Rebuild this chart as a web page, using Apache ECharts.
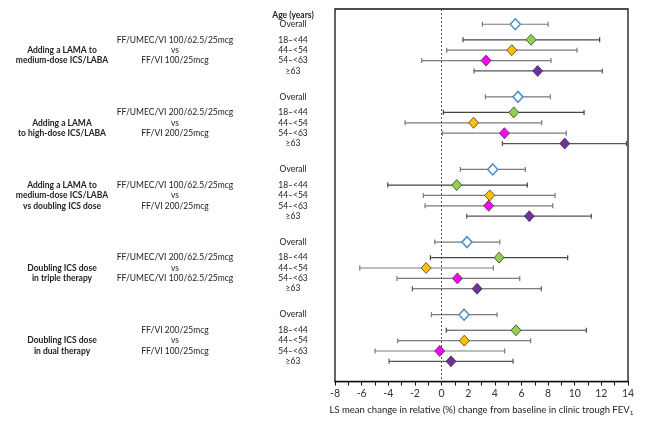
<!DOCTYPE html>
<html>
<head>
<meta charset="utf-8">
<script src="https://cdn.jsdelivr.net/npm/echarts@6/dist/echarts.min.js"></script>
<style>
html,body{margin:0;padding:0;background:#fff;}
#c{width:661px;height:421px;}
</style>
</head>
<body>
<div id="c"></div>
<script>
// ---- data ----
const groupLabels = [
  ['Adding a LAMA to', 'medium-dose ICS/LABA'],
  ['Adding a LAMA', 'to high-dose ICS/LABA'],
  ['Adding a LAMA to', 'medium-dose ICS/LABA', 'vs doubling ICS dose'],
  ['Doubling ICS dose', 'in triple therapy'],
  ['Doubling ICS dose', 'in dual therapy']
];
const comparisons = [
  ['FF/UMEC/VI 100/62.5/25mcg', 'vs', 'FF/VI 100/25mcg'],
  ['FF/UMEC/VI 200/62.5/25mcg', 'vs', 'FF/VI 200/25mcg'],
  ['FF/UMEC/VI 100/62.5/25mcg', 'vs', 'FF/VI 200/25mcg'],
  ['FF/UMEC/VI 200/62.5/25mcg', 'vs', 'FF/UMEC/VI 100/62.5/25mcg'],
  ['FF/VI 200/25mcg', 'vs', 'FF/VI 100/25mcg']
];
const ageGroups = ['Overall', '18\u2013<44', '44\u2013<54', '54\u2013<63', '\u226563'];
const xTicks = [-8, -6, -4, -2, 0, 2, 4, 6, 8, 10, 12, 14];

// LS mean and 95% CI, per comparison, per age group (Overall, 18-<44, 44-<54, 54-<63, >=63)
const lsMean = [
  [5.54, 6.72, 5.27, 3.34, 7.22],
  [5.74, 5.42, 2.41, 4.72, 9.25],
  [3.84, 1.14, 3.62, 3.54, 6.59],
  [1.91, 4.32, -1.16, 1.19, 2.67],
  [1.69, 5.59, 1.71, -0.14, 0.71]
];
const ciLower = [
  [3.07, 1.61, 0.39, -1.49, 2.44],
  [3.29, 0.14, -2.74, 0.06, 4.57],
  [1.41, -4.04, -1.37, -1.24, 1.89],
  [-0.51, -0.84, -6.14, -3.34, -2.19],
  [-0.76, 0.36, -3.29, -4.99, -3.94]
];
const ciUpper = [
  [8.00, 11.87, 10.17, 8.22, 12.07],
  [8.17, 10.70, 7.52, 9.37, 13.88],
  [6.29, 6.44, 8.52, 8.35, 11.25],
  [4.37, 9.47, 3.89, 5.87, 7.49],
  [4.17, 10.87, 6.69, 4.74, 5.37]
];

// ---- layout (row slots) ----
const rowOffsets = [0, 1.5, 2.5, 3.5, 4.5];
const groupStep = 7;
const rowPos = (g, i) => g * groupStep + rowOffsets[i];

const markerFill = ['#ffffff', '#92d050', '#ffc000', '#ff00ff', '#7030a0'];
const markerBorder = ['#4a8cc8', '#3a3a3a', '#3a3a3a', '#3a3a3a', '#3a3a3a'];
const barColor = ['#7a7a7a', '#444444', '#7a7a7a', '#7a7a7a', '#555555'];

const FONT = 'Lato, "Open Sans", sans-serif';

const chart = echarts.init(document.getElementById('c'), null, {renderer: 'canvas'});

const errData = [];
for (let g = 0; g < lsMean.length; g++) {
  for (let i = 0; i < ageGroups.length; i++) {
    errData.push([ciLower[g][i], ciUpper[g][i], rowPos(g, i), i]);
  }
}

const series = [];
series.push({
  type: 'custom',
  name: 'ci',
  data: errData,
  encode: {x: [0, 1], y: 2},
  renderItem: function (params, api) {
    const y = api.value(2);
    const p1 = api.coord([api.value(0), y]);
    const p2 = api.coord([api.value(1), y]);
    const h = 2.5;
    const st = {stroke: barColor[api.value(3)], lineWidth: 1.2};
    return {
      type: 'group',
      children: [
        {type: 'line', shape: {x1: p1[0], y1: p1[1], x2: p2[0], y2: p2[1]}, style: st},
        {type: 'line', shape: {x1: p1[0], y1: p1[1] - h, x2: p1[0], y2: p1[1] + h}, style: st},
        {type: 'line', shape: {x1: p2[0], y1: p2[1] - h, x2: p2[0], y2: p2[1] + h}, style: st}
      ]
    };
  },
  markLine: {
    silent: true,
    symbol: ['none', 'none'],
    label: {show: false},
    lineStyle: {color: '#555', type: [2, 2], width: 1},
    data: [{xAxis: 0}]
  },
  z: 2
});

for (let i = 0; i < ageGroups.length; i++) {
  const d = [];
  for (let g = 0; g < lsMean.length; g++) d.push([lsMean[g][i], rowPos(g, i)]);
  series.push({
    type: 'scatter',
    name: ageGroups[i],
    data: d,
    symbol: 'diamond',
    symbolSize: [10, 11],
    itemStyle: {
      color: markerFill[i],
      borderColor: markerBorder[i],
      borderWidth: i === 0 ? 1.5 : 0.8,
      opacity: 1
    },
    z: 5
  });
}

chart.setOption({
  animation: false,
  backgroundColor: '#fff',
  grid: {
    left: 335, top: 9, width: 293, height: 374,
    show: true, borderColor: '#111', borderWidth: 1.3, backgroundColor: 'transparent'
  },
  xAxis: {
    type: 'value',
    min: -8, max: 14, interval: 2,
    position: 'bottom',
    axisLine: {show: true, onZero: false, lineStyle: {color: '#111', width: 1.3}},
    axisTick: {show: true, length: 4, lineStyle: {color: '#111'}},
    minorTick: {show: true, splitNumber: 2, length: 4, lineStyle: {color: '#111'}},
    splitLine: {show: false},
    axisLabel: {
      color: '#333', fontSize: 10.5, fontFamily: FONT, margin: 7,
      formatter: v => (xTicks.indexOf(v) >= 0 ? String(v) : '')
    },
    name: '{t|LS mean change in relative (%) change from baseline in clinic trough FEV}{s|1}',
    nameLocation: 'middle',
    nameGap: 17,
    nameTextStyle: {
      verticalAlign: 'top',
      rich: {
        t: {fontSize: 9.5, color: '#222', fontFamily: FONT},
        s: {fontSize: 6.5, color: '#222', fontFamily: FONT, padding: [6, 0, 0, 0]}
      }
    }
  },
  yAxis: {
    type: 'value', inverse: true, min: -1.47, max: 34.45,
    show: false, splitLine: {show: false}
  },
  series: series
});

// ---- text columns ----
const ypx = v => chart.convertToPixel({yAxisIndex: 0}, v);
const graphics = [];
const txt = (s, x, y, bold, size) => graphics.push({
  type: 'text', silent: true,
  style: {
    text: s, x: x, y: y, align: 'center', verticalAlign: 'middle',
    fill: '#222', fontFamily: FONT, fontSize: size || 8.5, fontWeight: bold ? 'bold' : 'normal'
  }
});
txt('Age (years)', 293, 15, true);
for (let g = 0; g < groupLabels.length; g++) {
  for (let i = 0; i < ageGroups.length; i++) {
    txt(ageGroups[i], 293, ypx(rowPos(g, i)), false);
  }
  const cmp = comparisons[g];
  for (let k = 0; k < cmp.length; k++) txt(cmp[k], 175, ypx(rowPos(g, k + 1)), false);
  const gl = groupLabels[g];
  const start = gl.length === 3 ? 1 : 2;
  for (let k = 0; k < gl.length; k++) txt(gl[k], 62, ypx(rowPos(g, start + k)), true);
}
chart.setOption({graphic: graphics});
</script>
</body>
</html>
